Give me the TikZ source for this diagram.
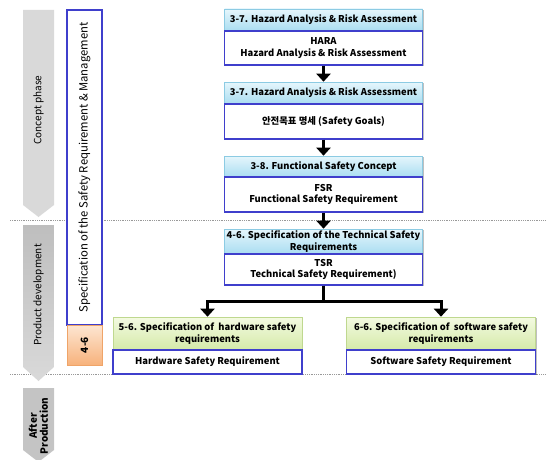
\documentclass[tikz,border=0pt]{standalone}
\usepackage{fontspec}
\setmainfont{Noto Sans CJK KR}
\usetikzlibrary{arrows.meta,shadows}
\definecolor{hdrtop}{HTML}{E6F6FC}
\definecolor{hdrbot}{HTML}{A9DDF1}
\definecolor{hdrline}{HTML}{8CCBE3}
\definecolor{bodyline}{HTML}{3F3FCC}
\definecolor{grntop}{HTML}{F4FAE2}
\definecolor{grnbot}{HTML}{D4EAA8}
\definecolor{grnline}{HTML}{BFD88F}
\definecolor{orgl}{HTML}{FDE6D2}
\definecolor{orgr}{HTML}{F7B27C}
\definecolor{orgline}{HTML}{EFA468}
\definecolor{grayA}{HTML}{D9D9D9}
\definecolor{grayB}{HTML}{BEBEBE}
\definecolor{grayC}{HTML}{C4C4C4}
\begin{document}
\begin{tikzpicture}[x=1pt,y=-1pt,
  boxfont/.style={font=\bfseries\fontsize{9.4}{11.5}\selectfont},
  shad/.style={drop shadow={shadow xshift=1.2pt,shadow yshift=-1.2pt,opacity=0.25,fill=black}},
  hdr/.style={boxfont,draw=hdrline,line width=0.6pt,top color=hdrtop,bottom color=hdrbot,
    minimum width=198pt,inner sep=1pt,align=center,text=black,shad},
  bdy/.style={boxfont,draw=bodyline,line width=1.1pt,fill=white,
    minimum width=198pt,inner sep=1pt,align=center,text=black,shad},
  ghdr/.style={boxfont,draw=grnline,line width=0.6pt,top color=grntop,bottom color=grnbot,
    minimum width=189pt,inner sep=1pt,align=center,text=black,shad},
  gbdy/.style={boxfont,draw=bodyline,line width=1.1pt,fill=white,
    minimum width=189pt,inner sep=1pt,align=center,text=black,shad},
  conn/.style={line width=3pt,-{Triangle[width=14pt,length=8pt]}},
  phase/.style={rotate=90,align=center,font=\fontsize{10}{11.5}\selectfont,text=black},
  sep/.style={densely dotted,line width=0.8pt,color=black!40}
]
\useasboundingbox (0,0) rectangle (546,460);

% separators
\draw[sep] (10,220.5) -- (546,220.5);
\draw[sep] (10,374.5) -- (546,374.5);

% phase arrows
\fill[grayA] (23,10) -- (54,10) -- (54,205) -- (38.5,217) -- (23,205) -- cycle;
\shade[top color=grayB,bottom color=grayA] (23,225) -- (54,225) -- (54,367) -- (38.5,381) -- (23,367) -- cycle;
\fill[grayC] (23,388) -- (54,388) -- (54,450) -- (38.5,462) -- (23,450) -- cycle;
\node[phase] (pc) at (38.5,110) {Concept phase};
\node[phase] (pd) at (38.5,295) {Product development};
\node[phase,font=\bfseries\fontsize{10}{11}\selectfont] (pa) at (38.5,426) {After\\Production};

% left vertical boxes
\node[rotate=90,draw=bodyline,line width=1.1pt,fill=white,minimum width=315pt,minimum height=35pt,
  inner sep=0pt,font=\fontsize{11.3}{13}\selectfont,shad] (spec) at (84.5,167.5)
  {Specification of the Safety Requirement \& Management};
\node[rotate=90,draw=orgline,line width=0.6pt,top color=orgl,bottom color=orgr,minimum width=40pt,minimum height=35pt,
  inner sep=0pt,font=\bfseries\fontsize{10}{12}\selectfont,shad] (s46) at (84.5,345) {4-6};

% main column
\node[hdr,minimum height=22pt] (h1) at (323.5,20) {3-7. Hazard Analysis \& Risk Assessment};
\node[bdy,minimum height=34pt] (b1) at (323.5,48) {HARA\\Hazard Analysis \& Risk Assessment};
\node[hdr,minimum height=22pt] (h2) at (323.5,93) {3-7. Hazard Analysis \& Risk Assessment};
\node[bdy,minimum height=35pt] (b2) at (323.5,121.5) {안전목표 명세 (Safety Goals)};
\node[hdr,minimum height=21pt] (h3) at (323.5,166.5) {3-8. Functional Safety Concept};
\node[bdy,minimum height=35pt] (b3) at (323.5,194.5) {FSR\\Functional Safety Requirement};
\node[hdr,minimum height=25pt] (h4) at (323.5,241.5) {4-6. Specification of the Technical Safety\\Requirements};
\node[bdy,minimum height=31pt] (b4) at (323.5,269.5) {TSR\\Technical Safety Requirement)};

% bottom boxes
\node[ghdr,minimum height=33pt] (hl) at (207.5,333.5) {5-6. Specification of~~hardware safety\\requirements};
\node[gbdy,minimum height=24pt] (bl) at (207.5,362) {Hardware Safety Requirement};
\node[ghdr,minimum height=33pt] (hr) at (441,333.5) {6-6. Specification of~~software safety\\requirements};
\node[gbdy,minimum height=24pt] (br) at (441,362) {Software Safety Requirement};

% connectors
\draw[conn] (b1) -- (h2);
\draw[conn] (b2) -- (h3);
\draw[conn] (b3) -- (h4);
\draw[conn] (b4.south) -- ++(0,16) -| (hl.north);
\draw[conn] (b4.south) -- ++(0,16) -| (hr.north);
\end{tikzpicture}
\end{document}
